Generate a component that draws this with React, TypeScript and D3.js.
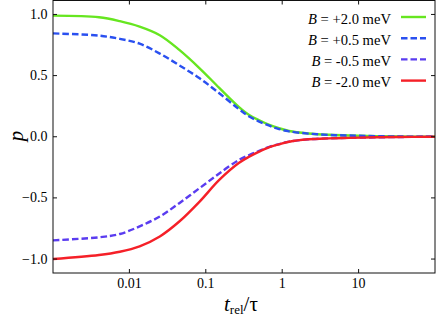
import React from "react";
import * as d3 from "d3";

// sample times (t_rel / tau)
const times = [0.001, 0.004, 0.0075, 0.0136, 0.025, 0.045, 0.083, 0.15, 0.27, 0.37, 0.5, 0.68, 0.91, 1.23, 2.2, 4.1, 7.5, 33, 100];

const pPlus20 = [0.99, 0.977, 0.945, 0.9, 0.83, 0.71, 0.56, 0.4, 0.245, 0.178, 0.135, 0.097, 0.07, 0.047, 0.027, 0.016, 0.01, 0.002, 0];
const pPlus05 = [0.845, 0.827, 0.8, 0.761, 0.68, 0.584, 0.478, 0.356, 0.227, 0.165, 0.124, 0.09, 0.063, 0.044, 0.026, 0.015, 0.01, 0.002, 0];
const pMinus05 = [-0.847, -0.822, -0.795, -0.733, -0.652, -0.543, -0.42, -0.3, -0.19, -0.15, -0.115, -0.082, -0.06, -0.04, -0.021, -0.013, -0.009, -0.002, 0];
const pMinus20 = [-1.0, -0.967, -0.94, -0.896, -0.815, -0.693, -0.53, -0.353, -0.215, -0.163, -0.122, -0.085, -0.062, -0.041, -0.021, -0.013, -0.009, -0.002, 0];

const seriesLabels = ["+2.0", "+0.5", "-0.5", "-2.0"];
const seriesColors = ["#66e620", "#2a50f0", "#5a3cf0", "#f52028"];
const seriesDashes = [null, "6.5,3", "6.5,3", null];
const seriesValues = [pPlus20, pPlus05, pMinus05, pMinus20];

const xTicks = [0.01, 0.1, 1, 10];
const xTickLabels = ["0.01", "0.1", "1", "10"];
const yTicks = [-1, -0.5, 0, 0.5, 1];

const W = 436;
const H = 319;
const left = 53;
const right = 435;
const top = 0.5;
const bottom = 273;
const FONT = "'Liberation Serif', 'Times New Roman', serif";

export default function App() {
  const x = d3.scaleLog().domain([0.001, 100]).range([left, right]);
  const y = d3.scaleLinear().domain([-1.114, 1.114]).range([bottom, top]);

  const line = d3
    .line<[number, number]>()
    .x((d) => x(d[0]))
    .y((d) => y(d[1]))
    .curve(d3.curveCatmullRom.alpha(0.5));

  const tick = 4;

  return (
    <svg
      width={W}
      height={H}
      style={{ position: "absolute", left: 0, top: 0, background: "#fff" }}
      fontFamily={FONT}
    >
      {/* curves */}
      <g fill="none">
        {seriesValues.map((vals, i) => (
          <path
            key={i}
            d={line(times.map((t, j) => [t, vals[j]] as [number, number])) || ""}
            stroke={seriesColors[i]}
            strokeWidth={2.4}
            strokeDasharray={seriesDashes[i] || undefined}
          />
        ))}
      </g>

      {/* frame */}
      <rect x={left} y={top} width={right - left} height={bottom - top} fill="none" stroke="#111" strokeWidth={1} />

      {/* x ticks */}
      {xTicks.map((t, i) => (
        <g key={"x" + i}>
          <line x1={x(t)} x2={x(t)} y1={bottom} y2={bottom - tick} stroke="#111" />
          <line x1={x(t)} x2={x(t)} y1={top} y2={top + tick} stroke="#111" />
          <text x={x(t)} y={288} textAnchor="middle" fontSize={14}>
            {xTickLabels[i]}
          </text>
        </g>
      ))}

      {/* y ticks */}
      {yTicks.map((v, i) => (
        <g key={"y" + i}>
          <line x1={left} x2={left + tick} y1={y(v)} y2={y(v)} stroke="#111" />
          <line x1={right} x2={right - tick} y1={y(v)} y2={y(v)} stroke="#111" />
          <text x={47.5} y={y(v) + 4.5} textAnchor="end" fontSize={14}>
            {d3.format(".1f")(v)}
          </text>
        </g>
      ))}

      {/* axis labels */}
      <text transform="translate(23,136) rotate(-90)" textAnchor="middle" fontSize={21} fontStyle="italic">
        p
      </text>
      <text x={224} y={311} fontSize={21}>
        <tspan fontStyle="italic">t</tspan>
        <tspan fontSize={13} dy={3}>rel</tspan>
        <tspan dy={-3}>/τ</tspan>
      </text>

      {/* legend */}
      {seriesLabels.map((lab, i) => {
        const ly = 17 + i * 21.2;
        return (
          <g key={"l" + i}>
            <text x={391} y={ly + 6.5} textAnchor="end" fontSize={14.6}>
              <tspan fontStyle="italic">B</tspan>
              {" = " + lab + " meV"}
            </text>
            <line
              x1={401}
              x2={426}
              y1={ly}
              y2={ly}
              stroke={seriesColors[i]}
              strokeWidth={2.4}
              strokeDasharray={seriesDashes[i] || undefined}
            />
          </g>
        );
      })}
    </svg>
  );
}
